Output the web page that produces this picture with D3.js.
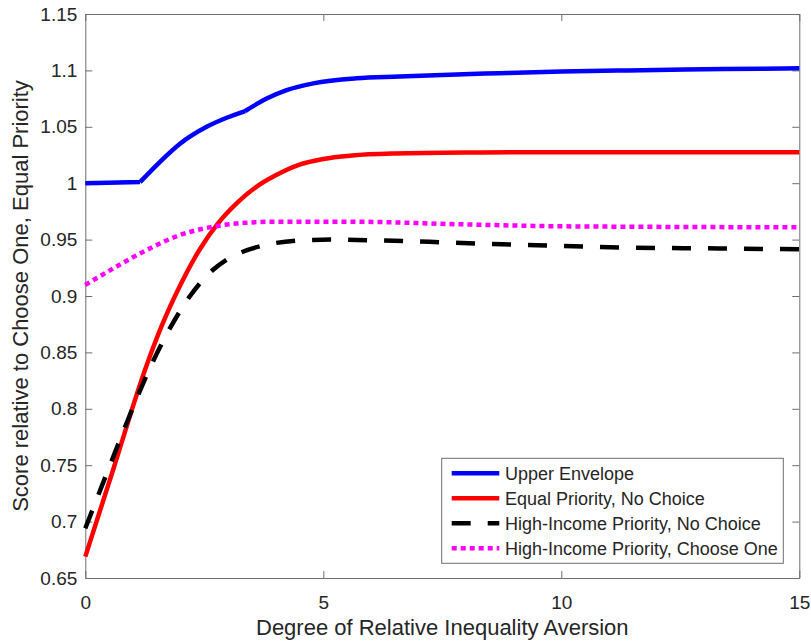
<!DOCTYPE html>
<html>
<head>
<meta charset="utf-8">
<script src="https://cdn.jsdelivr.net/npm/d3@7"></script>
<style>
  body { margin: 0; background: #fff; }
  svg text { font-family: "Liberation Sans", Arial, Helvetica, sans-serif; fill: #262626; }
</style>
</head>
<body>
<script>
// series values
const upperX = [0, 1.15, 1.57, 1.99, 2.55, 2.97, 3.36, 3.81, 4.23, 4.79, 5.7, 6.6, 7.5, 8.7, 10, 11.4, 12.6, 14.2, 15];
const upperY = [1.000, 1.001, 1.019, 1.035, 1.050, 1.058, 1.064, 1.075, 1.0825, 1.0885, 1.093, 1.0945, 1.096, 1.0975, 1.099, 1.100, 1.1008, 1.1015, 1.102];
const upperKinks = [1.15, 3.36];

const equalX = [0, 0.6, 1.25, 1.6, 2.0, 2.4, 2.8, 3.2, 3.6, 4.0, 4.5, 5.0, 5.6, 6.5, 8, 10, 15];
const equalY = [0.669, 0.748, 0.834, 0.873, 0.910, 0.941, 0.965, 0.983, 0.997, 1.007, 1.0165, 1.0215, 1.0245, 1.0263, 1.0272, 1.0275, 1.0275];

const highNoX = [0, 0.5, 1.0, 1.4, 1.8, 2.2, 2.6, 3.0, 3.5, 4.0, 4.6, 5.25, 5.94, 6.72, 7.49, 8.25, 9.03, 9.8, 10.56, 11.37, 12.14, 12.91, 13.68, 15];
const highNoY = [0.694, 0.748, 0.801, 0.840, 0.873, 0.900, 0.920, 0.933, 0.942, 0.947, 0.9495, 0.9500, 0.9494, 0.9488, 0.9476, 0.9464, 0.9455, 0.9446, 0.9437, 0.9428, 0.9425, 0.9423, 0.9419, 0.9415];

const highOneX = [0, 0.59, 1.29, 1.99, 2.69, 3.39, 4.02, 5.56, 7.66, 9.62, 12, 15];
const highOneY = [0.9098, 0.9245, 0.9408, 0.9541, 0.9615, 0.965, 0.9659, 0.9659, 0.9638, 0.962, 0.9613, 0.9609];

const xTicks = [0, 5, 10, 15];
const yTicks = [0.65, 0.7, 0.75, 0.8, 0.85, 0.9, 0.95, 1, 1.05, 1.1, 1.15];

const seriesNames = ['Upper Envelope', 'Equal Priority, No Choice', 'High-Income Priority, No Choice', 'High-Income Priority, Choose One'];

const width = 811;
const height = 644;
const plotLeft = 85.3, plotRight = 799.3, plotTop = 14, plotBottom = 578;

const svg = d3.select('body').append('svg')
.attr('width', width)
.attr('height', height);

const x = d3.scaleLinear().domain([0, 15]).range([plotLeft, plotRight]);
const y = d3.scaleLinear().domain([0.65, 1.15]).range([plotBottom, plotTop]);

const zip = (xs, ys) => xs.map((v, i) => [v, ys[i]]);

// split a series at its kinks so the smoothing does not round them off
const splitAt = (pts, kinks) => {
  const cuts = [pts[0][0], ...kinks, pts[pts.length - 1][0]];
  return d3.pairs(cuts).map(([a, b]) => pts.filter(p => p[0] >= a && p[0] <= b));
};

const series = [
  { name: seriesNames[0], data: zip(upperX, upperY), kinks: upperKinks, color: '#0000ff', dash: null },
  { name: seriesNames[1], data: zip(equalX, equalY), kinks: [], color: '#ff0000', dash: null },
  { name: seriesNames[2], data: zip(highNoX, highNoY), kinks: [], color: '#000000', dash: '19,17' },
  { name: seriesNames[3], data: zip(highOneX, highOneY), kinks: [], color: '#ff00ff', dash: '5,4' },
];

// axes (MATLAB style: box on, ticks inside)
const tickLen = 7;
const axisColor = '#6e6e6e';

const bottomAxis = svg.append('g')
.attr('transform', `translate(0,${plotBottom})`)
.call(d3.axisBottom(x).tickValues(xTicks).tickSizeInner(-tickLen).tickSizeOuter(0));
const topAxis = svg.append('g')
.attr('transform', `translate(0,${plotTop})`)
.call(d3.axisTop(x).tickValues(xTicks).tickSizeInner(-tickLen).tickSizeOuter(0).tickFormat(''));
const leftAxis = svg.append('g')
.attr('transform', `translate(${plotLeft},0)`)
.call(d3.axisLeft(y).tickValues(yTicks).tickSizeInner(-tickLen).tickSizeOuter(0).tickFormat(d3.format('')));
const rightAxis = svg.append('g')
.attr('transform', `translate(${plotRight},0)`)
.call(d3.axisRight(y).tickValues(yTicks).tickSizeInner(-tickLen).tickSizeOuter(0).tickFormat(''));

[bottomAxis, topAxis, leftAxis, rightAxis].forEach((g) => {
  g.select('.domain').attr('stroke', axisColor).attr('stroke-width', 1);
  g.selectAll('.tick line').attr('stroke', axisColor);
  g.selectAll('.tick text')
  .style('font-size', '19px')
  .attr('fill', '#262626');
});
bottomAxis.selectAll('.tick text').attr('dy', '0.71em').attr('y', 18);
leftAxis.selectAll('.tick text').attr('x', -8);

// curves
const line = d3.line()
    .x(d => x(d[0]))
    .y(d => y(d[1]))
    .curve(d3.curveMonotoneX);

series.forEach((s) => {
  const d = splitAt(s.data, s.kinks).map(seg => line(seg)).join('');
  svg.append('path')
  .attr('d', d)
  .attr('fill', 'none')
  .attr('stroke', s.color)
  .attr('stroke-width', 4.5)
  .attr('stroke-dasharray', s.dash)
  .attr('stroke-linejoin', 'round');
});

// axis labels
svg.append('text')
.attr('x', (plotLeft + plotRight) / 2)
.attr('y', 635)
.attr('text-anchor', 'middle')
.style('font-size', '22px')
.text('Degree of Relative Inequality Aversion');

svg.append('text')
.attr('transform', `translate(28,${(plotTop + plotBottom) / 2}) rotate(-90)`)
.attr('text-anchor', 'middle')
.style('font-size', '22px')
.text('Score relative to Choose One, Equal Priority');

// legend
const legend = svg.append('g').attr('transform', 'translate(441.7,458.3)');
legend.append('rect')
.attr('width', 341.6)
.attr('height', 105)
.attr('fill', '#fff')
.attr('stroke', axisColor)
.attr('stroke-width', 1);

series.forEach((s, i) => {
  const row = legend.append('g').attr('transform', `translate(0,${15 + i * 25})`);
  row.append('line')
  .attr('x1', 10)
  .attr('x2', 57.6)
  .attr('stroke', s.color)
  .attr('stroke-width', 4.5)
  .attr('stroke-dasharray', s.dash);
  row.append('text')
  .attr('x', 63.3)
  .attr('dy', '0.36em')
  .style('font-size', '18px')
  .text(s.name);
});
</script>
</body>
</html>
